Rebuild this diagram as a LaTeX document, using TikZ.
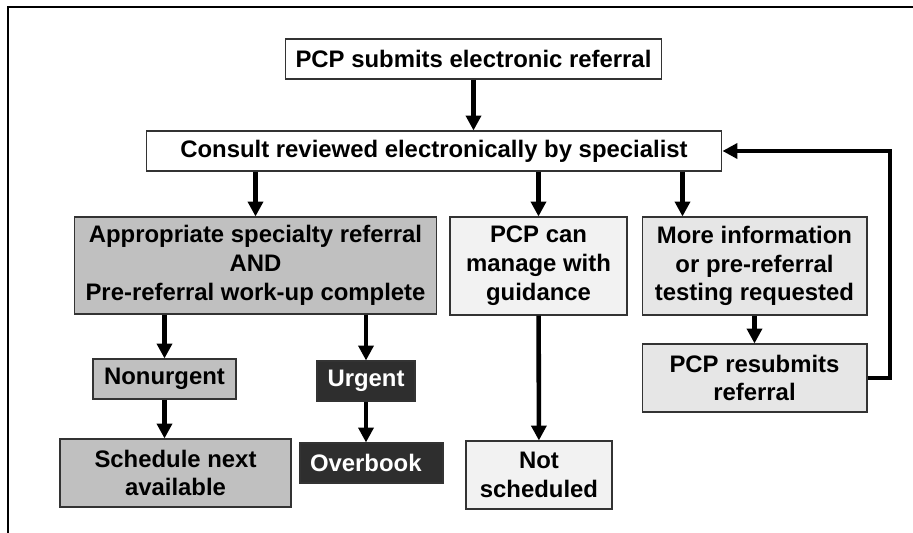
\documentclass[tikz,border=0pt]{standalone}
\usepackage{fontspec}
\setmainfont{Liberation Sans}
\usetikzlibrary{arrows.meta,calc}
\definecolor{midgrey}{HTML}{C0C0C0}
\definecolor{palegrey}{HTML}{F2F2F2}
\definecolor{speckgrey}{HTML}{E6E6E6}
\definecolor{darkgrey}{HTML}{2E2E2E}
\begin{document}
\begin{tikzpicture}[x=0.02cm, y=-0.02cm, line join=miter,
  font=\fontsize{13.6}{16.4}\selectfont\bfseries, >={Triangle[width=8.5pt,length=8.5pt]},
  card/.style={draw=black!80, line width=0.6pt, align=center, inner sep=2pt},
  whitecard/.style={card, fill=white},
  greycard/.style={card, fill=midgrey},
  palecard/.style={card, fill=palegrey},
  speckcard/.style={card, fill=speckgrey},
  darkcard/.style={card, fill=darkgrey, text=white},
  arr/.style={->, line width=2.6pt}]
\useasboundingbox (0,0) rectangle (913,533);
\draw[line width=1.3pt] (8,533)--(8,7)--(913,7);
% boxes
\node[whitecard, minimum width=7.54cm, minimum height=0.8cm] (submit) at (473.5,59) {PCP submits electronic referral};
\node[whitecard, minimum width=11.52cm, minimum height=0.8cm] (review) at (434,151) {Consult reviewed electronically by specialist};
\node[greycard, minimum width=7.26cm, minimum height=1.94cm] (approp) at (255.5,265.5) {Appropriate specialty referral\\AND\\Pre-referral work-up complete};
\node[palecard, minimum width=3.54cm, minimum height=1.96cm] (manage) at (538.5,266) {PCP can\\manage with\\guidance};
\node[speckcard, minimum width=4.5cm, minimum height=1.96cm] (moreinfo) at (754.5,266) {More information\\or pre-referral\\testing requested};
\node[speckcard, minimum width=4.5cm, minimum height=1.36cm] (resubmit) at (754.5,378) {PCP resubmits\\referral};
\node[greycard, minimum width=2.86cm, minimum height=0.8cm] (nonurg) at (164.5,379) {Nonurgent};
\node[darkcard, minimum width=1.96cm, minimum height=0.8cm] (urg) at (366,381) {Urgent};
\node[greycard, minimum width=4.62cm, minimum height=1.36cm] (sched) at (175.5,473) {Schedule next\\available};
\node[darkcard, text width=2.46cm, inner xsep=0.2cm, align=left, minimum height=0.8cm] (overbook) at (371.5,463) {Overbook};
\node[palecard, minimum width=2.92cm, minimum height=1.36cm] (notsched) at (539,475) {Not\\scheduled};
% arrows
\coordinate (split) at ($(moreinfo.north)+(-72,0)$);
\coordinate (back) at (890,378);
\draw[arr] (submit.south) -- (submit.south |- review.north);
\draw[arr] (approp.north |- review.south) -- (approp.north);
\draw[arr] (manage.north |- review.south) -- (manage.north);
\draw[arr] (split |- review.south) -- (split);
\draw[arr] (nonurg.north |- approp.south) -- (nonurg.north);
\draw[arr] (urg.north |- approp.south) -- (urg.north);
\draw[arr] (nonurg.south) -- (nonurg.south |- sched.north);
\draw[arr] (urg.south) -- (urg.south |- overbook.north);
\draw[arr] (manage) -- (notsched);
\draw[arr] (moreinfo) -- (resubmit);
\draw[arr] (resubmit.east) -- (back) |- (review.east);
\end{tikzpicture}
\end{document}
